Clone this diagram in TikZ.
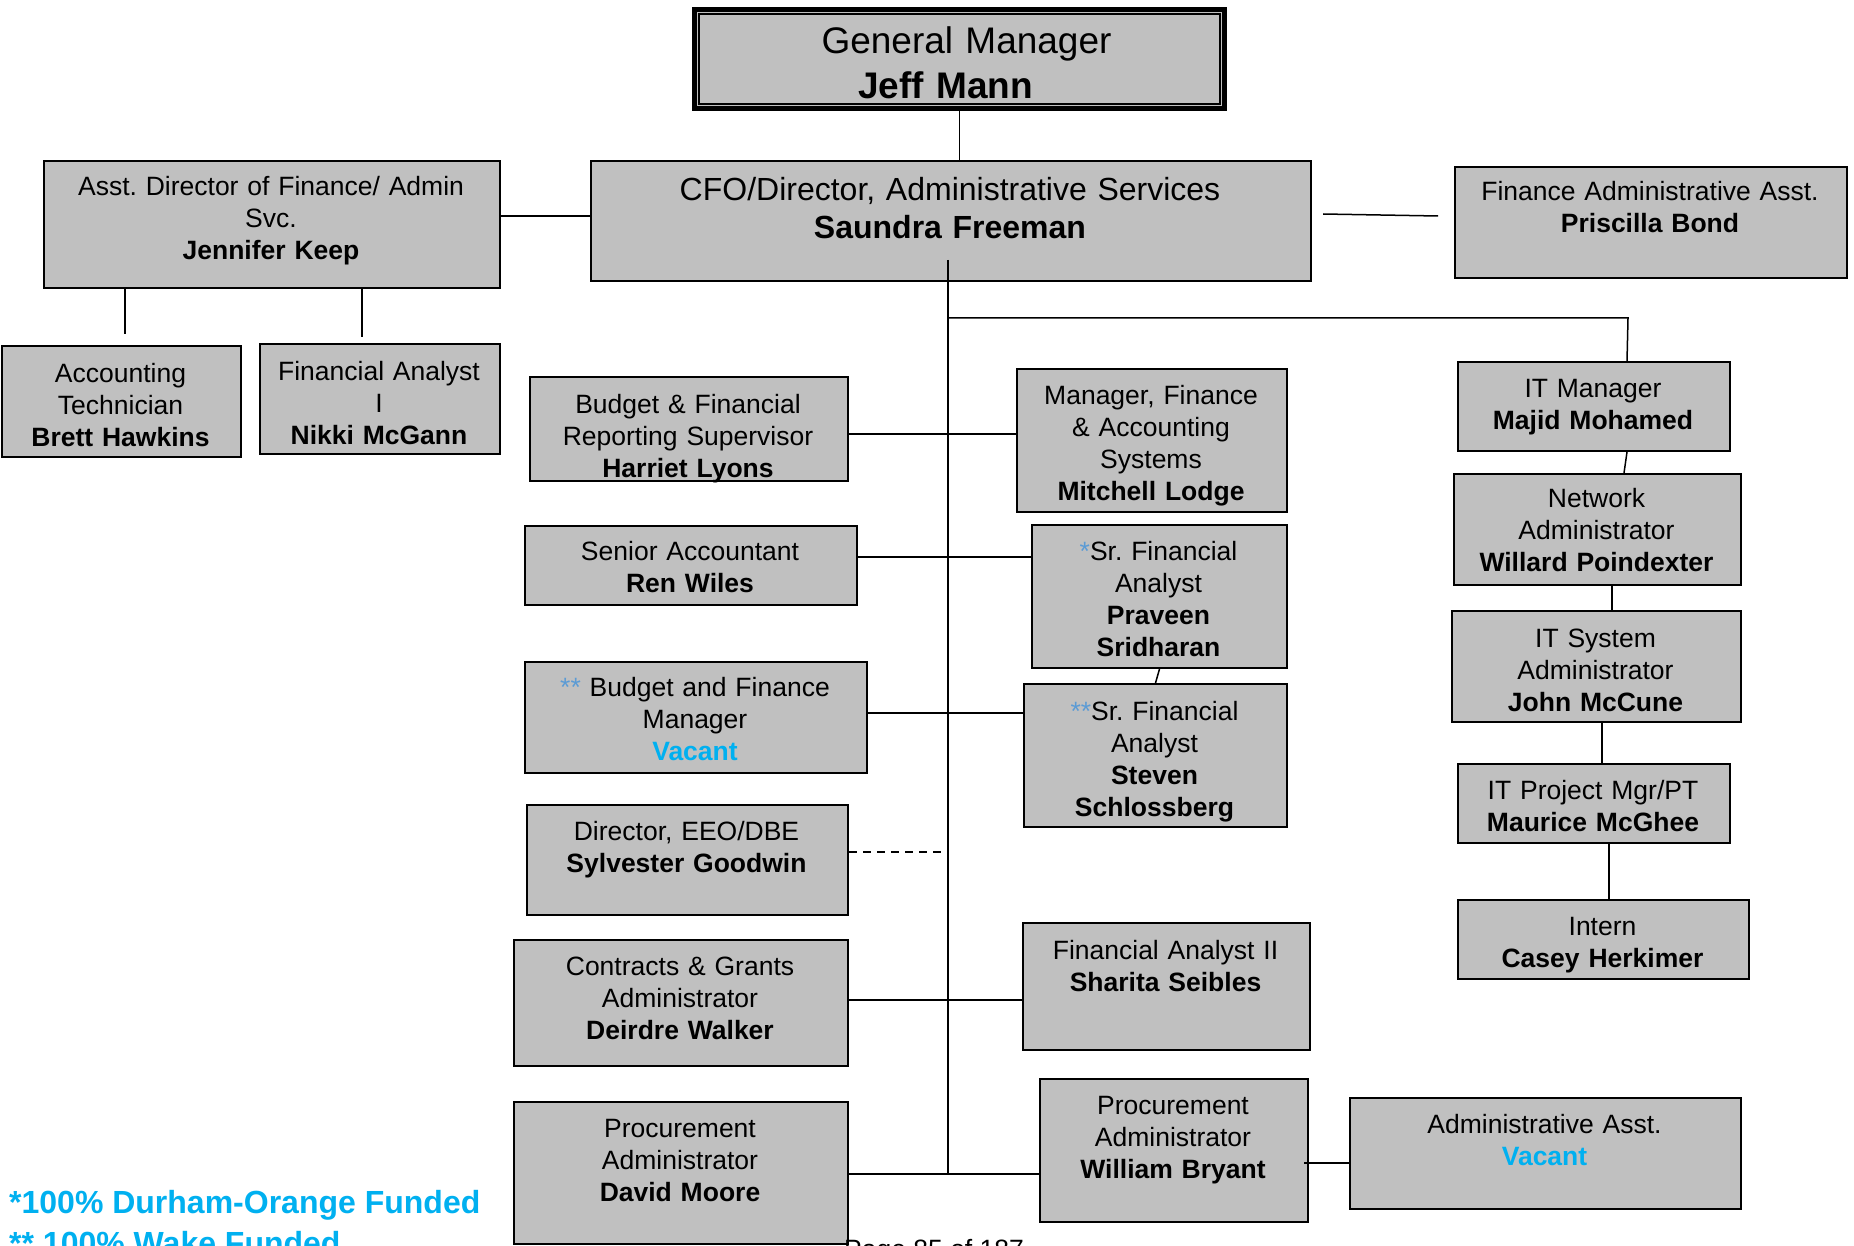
\documentclass[tikz,border=0pt]{standalone}
\usepackage{fontspec}
\setmainfont{Liberation Sans}
\frenchspacing
\definecolor{boxgray}{RGB}{192,192,192}
\definecolor{astblue}{RGB}{91,155,213}
\definecolor{vacblue}{RGB}{0,176,240}
\newcommand\bxfont{\fontsize{26.5}{32}\selectfont}
\newcommand\cfofont{\fontsize{32}{38}\selectfont}
\newcommand\gmfont{\fontsize{37}{45}\selectfont}
\newcommand\fnfont{\fontsize{32}{38}\selectfont\bfseries}
\newcommand\astmark[1]{{\color{astblue}#1}}
\newcommand\vacname{\textbf{\color{vacblue}Vacant}}
\begin{document}
\begin{tikzpicture}[x=1pt,y=-1pt,
  box/.style={draw=black,line width=2pt,fill=boxgray,inner sep=0pt,anchor=north west},
  lbl/.style={font=\bxfont,align=center,inner sep=0pt,anchor=base},
  link/.style={line width=1.5pt,black},
  dotted link/.style={link,dash pattern=on 8pt off 6pt}]
\useasboundingbox (0,0) rectangle (1854,1246);
\clip (0,0) rectangle (1854,1246);
\fill[white] (0,0) rectangle (1854,1246);

% ---- boxes ----
\node[box,line width=5pt,minimum width=530,minimum height=99] (gm) at (692,7) {};
\draw[line width=1.2pt] ([shift={(7pt,-7pt)}]gm.north west) rectangle ([shift={(-7pt,7pt)}]gm.south east);
\node[box,minimum width=720,minimum height=120] (cfo) at (590,160) {};
\node[box,minimum width=456,minimum height=127] (asst) at (43,160) {};
\node[box,minimum width=392,minimum height=111] (fasst) at (1454,166) {};
\node[box,minimum width=239,minimum height=111] (acct) at (1,345) {};
\node[box,minimum width=240,minimum height=110] (fa1) at (259,343) {};
\node[box,minimum width=318,minimum height=104] (bfrs) at (529,376) {};
\node[box,minimum width=270,minimum height=143] (mfas) at (1016,368) {};
\node[box,minimum width=272,minimum height=89] (itm) at (1457,361) {};
\node[box,minimum width=287,minimum height=111] (net) at (1453,473) {};
\node[box,minimum width=332,minimum height=79] (sacc) at (524,525) {};
\node[box,minimum width=255,minimum height=143] (sfa1) at (1031,524) {};
\node[box,minimum width=289,minimum height=111] (itsys) at (1451,610) {};
\node[box,minimum width=342,minimum height=111] (bfm) at (524,661) {};
\node[box,minimum width=263,minimum height=143] (sfa2) at (1023,683) {};
\node[box,minimum width=272,minimum height=79] (itpm) at (1457,763) {};
\node[box,minimum width=321,minimum height=110] (eeo) at (526,804) {};
\node[box,minimum width=291,minimum height=79] (intern) at (1457,899) {};
\node[box,minimum width=334,minimum height=126] (cga) at (513,939) {};
\node[box,minimum width=287,minimum height=127] (fa2) at (1022,922) {};
\node[box,minimum width=334,minimum height=142] (pa1) at (513,1101) {};
\node[box,minimum width=268,minimum height=143] (pa2) at (1039,1078) {};
\node[box,minimum width=391,minimum height=111] (aa) at (1349,1097) {};

% ---- box texts ----
\node[lbl,font=\gmfont,text width=532] (gmT) at (958,54) {\rule{17pt}{0pt}General Manager\\\textbf{Jeff Mann}\rule{25pt}{0pt}};
\node[lbl,font=\cfofont,text width=720] (cfoT) at (950,201) {CFO/Director, Administrative Services\\\textbf{Saundra Freeman}};
\node[lbl,text width=456] (asstT) at (271,196) {Asst. Director of Finance/ Admin\\Svc.\\\textbf{Jennifer Keep}};
\node[lbl,text width=392] (fasstT) at (1650,201) {Finance Administrative Asst.\\\textbf{Priscilla Bond}};
\node[lbl,text width=239] (acctT) at (120.5,382) {Accounting\\Technician\\\textbf{Brett Hawkins}};
\node[lbl,text width=240] (fa1T) at (379,380) {Financial Analyst\\I\\\textbf{Nikki McGann}};
\node[lbl,text width=318] (bfrsT) at (688,413) {Budget \& Financial\\Reporting Supervisor\\\textbf{Harriet Lyons}};
\node[lbl,text width=270] (mfasT) at (1151,404) {Manager, Finance\\\& Accounting\\Systems\\\textbf{Mitchell Lodge}};
\node[lbl,text width=272] (itmT) at (1593,397) {IT Manager\\\textbf{Majid Mohamed}};
\node[lbl,text width=287] (netT) at (1596.5,507) {Network\\Administrator\\\textbf{Willard Poindexter}};
\node[lbl,text width=332] (saccT) at (690,560) {Senior Accountant\\\textbf{Ren Wiles}};
\node[lbl,text width=255] (sfa1T) at (1158.5,560) {\astmark{*}Sr. Financial\\Analyst\\\textbf{Praveen}\\\textbf{Sridharan}};
\node[lbl,text width=289] (itsysT) at (1595.5,647) {IT System\\Administrator\\\textbf{John McCune}};
\node[lbl,text width=342] (bfmT) at (695,696) {\astmark{**} Budget and Finance\\Manager\\\vacname};
\node[lbl,text width=263] (sfa2T) at (1154.5,720) {\astmark{**}Sr. Financial\\Analyst\\\textbf{Steven}\\\textbf{Schlossberg}};
\node[lbl,text width=272] (itpmT) at (1593,799) {IT Project Mgr/PT\\\textbf{Maurice McGhee}};
\node[lbl,text width=321] (eeoT) at (686.5,840) {Director, EEO/DBE\\\textbf{Sylvester Goodwin}};
\node[lbl,text width=291] (internT) at (1602.5,935) {Intern\\\textbf{Casey Herkimer}};
\node[lbl,text width=334] (cgaT) at (680,975) {Contracts \& Grants\\Administrator\\\textbf{Deirdre Walker}};
\node[lbl,text width=287] (fa2T) at (1165.5,959) {Financial Analyst II\\\textbf{Sharita Seibles}};
\node[lbl,text width=334] (pa1T) at (680,1137) {Procurement\\Administrator\\\textbf{David Moore}};
\node[lbl,text width=268] (pa2T) at (1173,1114) {Procurement\\Administrator\\\textbf{William Bryant}};
\node[lbl,text width=391] (aaT) at (1544.5,1133) {Administrative Asst.\\\vacname};

% ---- connectors ----
\draw[link] (gm.south) -- (gm.south |- cfo.north);
\coordinate (spT) at ([shift={(-3pt,22pt)}]cfo.south);
\draw[link] ([yshift=8.5pt]asst.east) coordinate (k1) -- (k1 -| cfo.west);
\draw[link] ([shift={(11pt,7pt)}]cfo.east) -- ([shift={(-16pt,6.5pt)}]fasst.west);
\draw[link] ([xshift=82pt]asst.south west) -- ++(0,45);
\draw[link] ([xshift=319pt]asst.south west) -- ++(0,48);
\coordinate (itj) at ([shift={(34pt,43pt)}]itm.north);
\draw[link] ([xshift=33pt]itm.north) -- (itj) -- (itj -| spT);
\draw[link] ([xshift=33pt]itm.south) -- ([xshift=26.5pt]net.north);
\draw[link] ([xshift=14.5pt]net.south) -- ([xshift=15.5pt]itsys.north);
\draw[link] ([xshift=5.5pt]itsys.south) -- ([xshift=8pt]itpm.north);
\draw[link] ([xshift=15pt]itpm.south) -- ([xshift=5.5pt]intern.north);
\draw[link] ([yshift=-5pt]bfrs.east) -- ([yshift=6.5pt]mfas.west);
\draw[link] ([yshift=8.5pt]sacc.east) -- ([yshift=39.5pt]sfa1.west);
\draw[link] (sfa1.south) -- (sfa2.north);
\draw[link] ([yshift=4.5pt]bfm.east) -- ([yshift=42.5pt]sfa2.west);
\draw[dotted link] ([yshift=8pt]eeo.east) coordinate (k2) -- (k2 -| spT);
\draw[link] ([yshift=3pt]cga.east) -- ([yshift=-13.5pt]fa2.west);
\draw[link] ([yshift=-1pt]pa1.east) coordinate (k3) -- ([yshift=-23.5pt]pa2.west);
\draw[link] ([shift={(-5pt,-12.5pt)}]pa2.east) -- ([yshift=-9.5pt]aa.west);
\draw[link] (spT) -- (spT |- k3);

% ---- notes ----
\node[font=\fnfont,text=vacblue,anchor=base west,inner sep=0pt] (fn1) at (9,1213) {*100\% Durham-Orange Funded};
\node[font=\fnfont,text=vacblue,anchor=base west,inner sep=0pt] (fn2) at (9,1254) {** 100\% Wake Funded};
\node[font=\bxfont,anchor=base west,inner sep=0pt] (pg) at (844,1258) {Page 85 of 187};
\end{tikzpicture}
\end{document}
